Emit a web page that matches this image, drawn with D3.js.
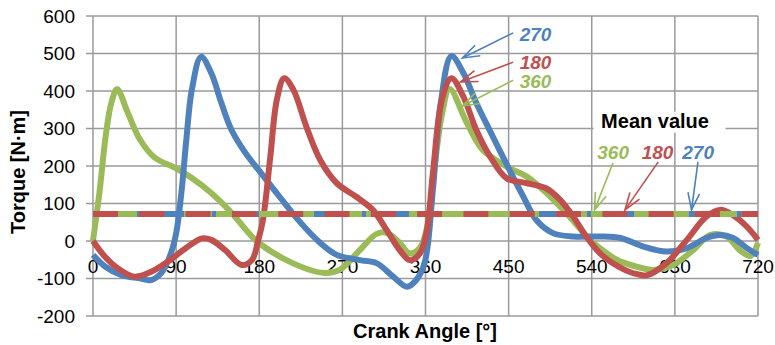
<!DOCTYPE html>
<html>
<head>
<meta charset="utf-8">
<script src="https://cdn.jsdelivr.net/npm/d3@7"></script>
<style>
  body { margin: 0; background: #fff; }
  svg { display: block; font-family: "Liberation Sans", Arial, sans-serif; }
</style>
</head>
<body>
<svg id="chart"></svg>
<script>
// crank angle [deg] and torque [N·m], one pair of arrays per firing interval
const angle360 = [0, 7, 14, 20, 26, 38, 51, 67, 89, 107, 128, 150, 172, 181, 216, 249, 267, 289, 307, 318, 332, 343, 354, 362, 370, 378, 386, 405, 422, 448, 470, 491, 516, 538, 552, 567, 585, 606, 628, 650, 668, 686, 700, 712, 720];
const torque360 = [0, 130, 285, 370, 405, 340, 270, 222, 195, 168, 128, 75, 12, -8, -59, -85, -77, -24, 19, 22, -5, -33, -18, 40, 200, 340, 405, 314, 243, 198, 171, 128, 65, 3, -25, -50, -66, -77, -64, -24, 16, 12, -24, -40, -5];

const angle270 = [0, 13, 31, 49, 63, 74, 83, 90, 96, 101, 107, 117, 128, 139, 150, 165, 182, 202, 224, 246, 264, 289, 307, 325, 340, 350, 359, 368, 376, 388, 401, 415, 433, 451, 466, 480, 498, 520, 548, 571, 596, 621, 643, 664, 679, 693, 708, 720];
const torque270 = [-37, -68, -91, -99, -104, -85, -42, 20, 136, 269, 403, 491, 448, 368, 296, 235, 181, 118, 51, -5, -37, -51, -59, -95, -122, -104, -59, 136, 358, 493, 448, 368, 278, 189, 118, 56, 21, 12, 12, 8, -15, -28, -19, 8, 16, 8, -19, -37];

const angle180 = [0, 13, 27, 45, 63, 81, 100, 118, 128, 143, 161, 172, 179, 184, 192, 199, 207, 217, 231, 246, 264, 285, 303, 318, 332, 343, 354, 361, 368, 378, 388, 401, 415, 430, 448, 470, 491, 506, 520, 534, 549, 562, 585, 600, 621, 643, 664, 679, 693, 708, 720];
const torque180 = [0, -42, -73, -95, -82, -55, -20, 7, 3, -24, -64, -51, 3, 56, 225, 376, 434, 403, 305, 216, 154, 118, 83, 29, -24, -51, -33, 21, 181, 380, 434, 385, 296, 225, 167, 154, 140, 109, 65, 12, -33, -58, -86, -91, -59, 3, 65, 83, 69, 38, 3];

const meanValue = 72;

const xTicks = [0, 90, 180, 270, 360, 450, 540, 630, 720];
const yTicks = [-200, -100, 0, 100, 200, 300, 400, 500, 600];

// annotations: [label, series, label x/y, arrow start x/y, arrow tip x/y] in data units
const peakNotes = [
  ["270", "c270", 462, 533, 455, 555, 400, 488],
  ["180", "c180", 462, 459, 455, 477, 398, 424],
  ["360", "c360", 462, 408, 455, 429, 400, 360]
];
const meanNotes = [
  ["360", "c360", 546, 219, 563, 208, 543, 83],
  ["180", "c180", 594, 219, 612, 211, 576, 83],
  ["270", "c270", 638, 219, 655, 211, 648, 83]
];

const colors = { c360: "#9BBB59", c270: "#4F81BD", c180: "#C0504D" };

const W = 775, H = 345;
const svg = d3.select("#chart").attr("width", W).attr("height", H);

const x = d3.scaleLinear().domain([0, 720]).range([93, 758]);
const y = d3.scaleLinear().domain([-200, 600]).range([316, 16]);

// grid
const grid = svg.append("g").attr("stroke", "#9a9a9a").attr("stroke-width", 1.5);
grid.selectAll(".v").data(xTicks).join("line")
  .attr("x1", d => x(d)).attr("x2", d => x(d))
  .attr("y1", y(-200)).attr("y2", y(600));
grid.selectAll(".h").data(yTicks).join("line")
  .attr("x1", x(0) - 7).attr("x2", x(720))
  .attr("y1", d => y(d)).attr("y2", d => y(d));

// tick labels
svg.append("g").selectAll("text").data(yTicks).join("text")
  .attr("x", 75).attr("y", d => y(d) + 6.5)
  .attr("text-anchor", "end").attr("font-size", 19).attr("fill", "#000")
  .text(d => d);
svg.append("g").selectAll("text").data(xTicks).join("text")
  .attr("x", d => x(d)).attr("y", y(0) + 32)
  .attr("text-anchor", "middle").attr("font-size", 19).attr("fill", "#000")
  .text(d => d);

// axis titles
svg.append("text")
  .attr("transform", `translate(25,${(y(600) + y(-200)) / 2 + 6}) rotate(-90)`)
  .attr("text-anchor", "middle").attr("font-size", 20).attr("font-weight", "bold")
  .text("Torque [N·m]");
svg.append("text")
  .attr("x", 425).attr("y", 338)
  .attr("text-anchor", "middle").attr("font-size", 20).attr("font-weight", "bold")
  .text("Crank Angle [°]");

// curves
const line = d3.line()
  .x(d => x(d[0])).y(d => y(d[1]))
  .curve(d3.curveCatmullRom.alpha(0.5));

const series = [
  ["c360", d3.zip(angle360, torque360)],
  ["c270", d3.zip(angle270, torque270)],
  ["c180", d3.zip(angle180, torque180)]
];
svg.append("g").selectAll("path").data(series).join("path")
  .attr("d", d => line(d[1]))
  .attr("fill", "none")
  .attr("stroke", d => colors[d[0]])
  .attr("stroke-width", 6)
  .attr("stroke-linejoin", "round");

// mean value lines, green solid under blue dash-dot and red long dash
const meanG = svg.append("g");
const meanLine = (c) => meanG.append("line")
  .attr("x1", x(0)).attr("x2", x(720))
  .attr("y1", y(meanValue)).attr("y2", y(meanValue))
  .attr("stroke", colors[c]).attr("stroke-width", 6);
meanLine("c360");
meanLine("c270").attr("stroke-dasharray", "20,28,4,23").attr("stroke-dashoffset", 4);
meanLine("c180").attr("stroke-dasharray", "25,21.3");

// arrows
function arrow(g, x1, y1, x2, y2, col) {
  const ang = Math.atan2(y1 - y2, x1 - x2);
  const len = 18, spread = 0.33;
  g.append("line")
    .attr("x1", x1).attr("y1", y1).attr("x2", x2).attr("y2", y2)
    .attr("stroke", col).attr("stroke-width", 1.6);
  g.append("path")
    .attr("d", `M${x2 + len * Math.cos(ang - spread)},${y2 + len * Math.sin(ang - spread)}L${x2},${y2}L${x2 + len * Math.cos(ang + spread)},${y2 + len * Math.sin(ang + spread)}`)
    .attr("fill", "none").attr("stroke", col).attr("stroke-width", 1.6);
}

const notes = svg.append("g");
// white box behind "Mean value"
notes.append("rect")
  .attr("x", x(542)).attr("y", y(345)).attr("width", 132).attr("height", 21)
  .attr("fill", "#fff");
notes.append("text")
  .attr("x", x(608.5)).attr("y", y(301))
  .attr("text-anchor", "middle").attr("font-size", 20).attr("font-weight", "bold")
  .text("Mean value");

peakNotes.concat(meanNotes).forEach(n => {
  const col = colors[n[1]];
  notes.append("text")
    .attr("x", x(n[2])).attr("y", y(n[3]))
    .attr("font-size", 19).attr("font-weight", "bold").attr("font-style", "italic")
    .attr("fill", col).text(n[0]);
  arrow(notes, x(n[4]), y(n[5]), x(n[6]), y(n[7]), col);
});
</script>
</body>
</html>
